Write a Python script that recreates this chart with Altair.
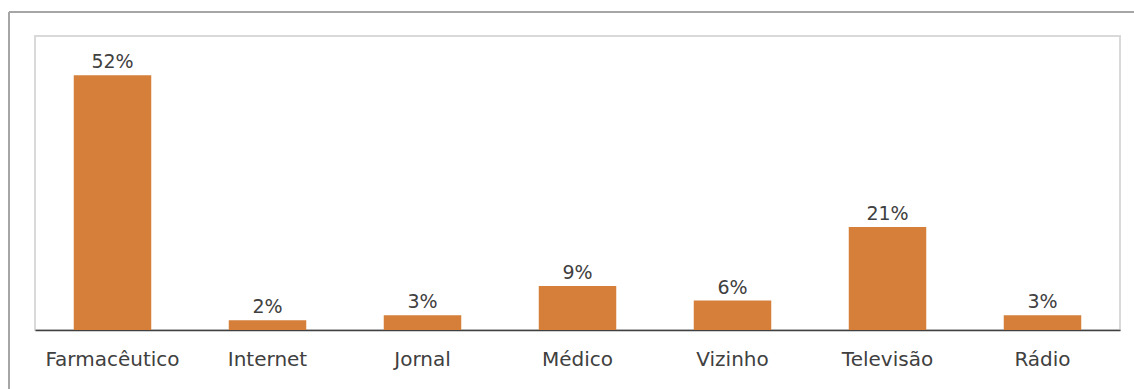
import altair as alt
import pandas as pd

categories = ["Farmacêutico", "Internet", "Jornal", "Médico", "Vizinho", "Televisão", "Rádio"]
values = [52, 2, 3, 9, 6, 21, 3]
labels = ["52%", "2%", "3%", "9%", "6%", "21%", "3%"]

df = pd.DataFrame({"cat": categories, "val": values, "lab": labels})

FONT = "DejaVu Sans"
FS = 20

x = alt.X("cat:N", sort=categories, title=None,
          scale=alt.Scale(paddingInner=0.5, paddingOuter=0.25),
          axis=alt.Axis(labelAngle=0, labelFont=FONT, labelFontSize=FS, labelColor="#404040",
                        ticks=False, labelPadding=19, domainColor="#404040", domainWidth=1.3))
y = alt.Y("val:Q", title=None, scale=alt.Scale(domain=[0, 60]), axis=None)

bars = alt.Chart(df).mark_bar(color="#D57F3A").encode(x=x, y=y)
text = alt.Chart(df).mark_text(baseline="bottom", dy=-3, font=FONT, fontSize=FS - 1, color="#404040").encode(
    x=alt.X("cat:N", sort=categories), y="val:Q", text="lab:N")

frame_top = alt.Chart(df).mark_rule(color="#A6A6A6", strokeWidth=2, clip=False).encode(
    x=alt.value(-26), x2=alt.value(1110), y=alt.value(-24))
frame_left = alt.Chart(df).mark_rule(color="#A6A6A6", strokeWidth=2, clip=False).encode(
    x=alt.value(-26), y=alt.value(-24), y2=alt.value(400))

chart = alt.layer(bars, text, frame_top, frame_left).properties(
    width=1085, height=294,
    autosize=alt.AutoSizeParams(type="none"),
    padding={"left": 35, "top": 36, "right": 14, "bottom": 59},
    background="white",
).configure_view(stroke="#D9D9D9", strokeWidth=2)

chart.save("out.html", embed_options={"renderer": "svg", "actions": False})
